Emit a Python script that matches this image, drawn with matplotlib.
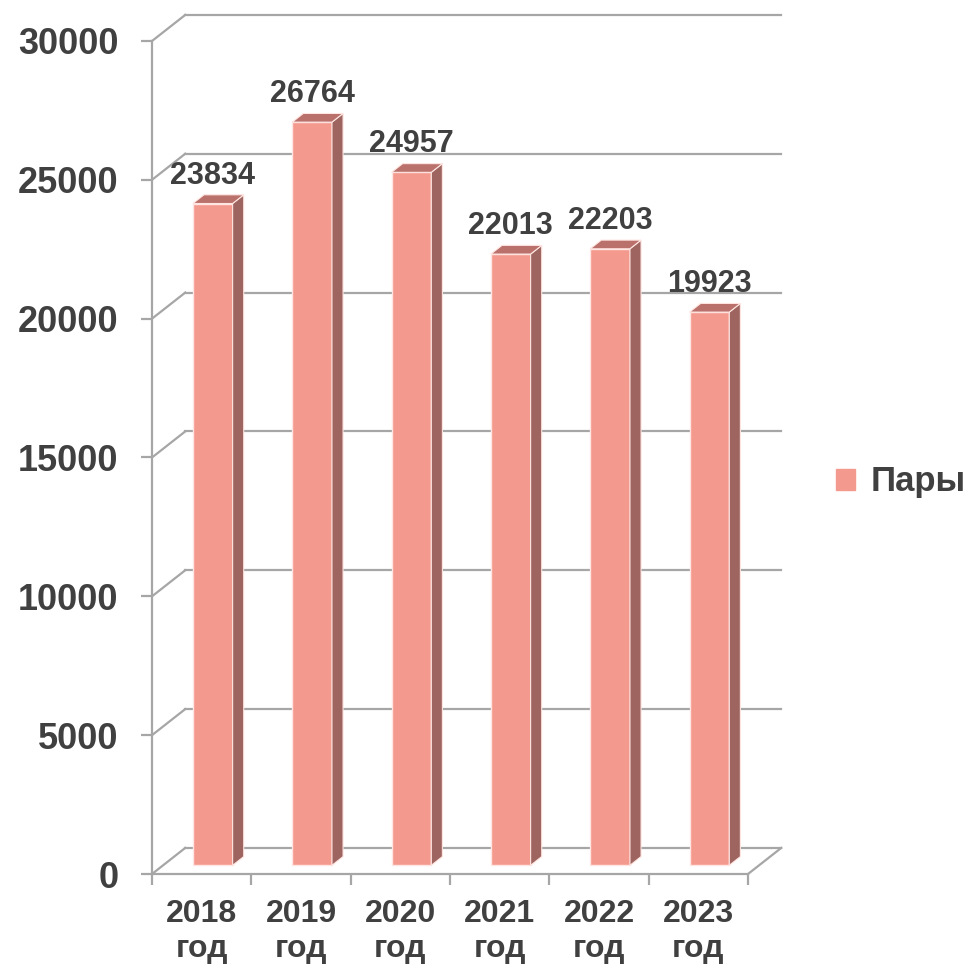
import numpy as np
import matplotlib
matplotlib.use('Agg')
import matplotlib.pyplot as plt

years = ['2018', '2019', '2020', '2021', '2022', '2023']
values = [23834, 26764, 24957, 22013, 22203, 19923]
y_ticks = [0, 5000, 10000, 15000, 20000, 25000, 30000]
series_name = 'Пары'

FRONT = '#F4998E'
SIDE = '#9E6560'
TOP = '#BA716C'
GRID = '#A6A6A6'
TEXT = '#404040'

plt.rcParams['font.family'] = ['Liberation Sans', 'DejaVu Sans']
plt.rcParams['font.weight'] = 'bold'

fig = plt.figure(figsize=(9.72, 9.67), dpi=100)
ax = fig.add_axes([152 / 972, 1 - 874 / 967, 596 / 972, 833 / 967])
n = len(values)
ax.set_xlim(0, n)
ax.set_ylim(0, 30000)

# depth of the pseudo-3d box (in data units)
DX, DY = 0.335, 940
fx, fy = DX / 3, DY / 3     # front face of bars
bdx, bdy = DX / 3, DY / 3   # bar depth
bw = 0.4

# walls and gridlines
for v in y_ticks:
    ax.plot([0, DX], [v, v + DY], color=GRID, lw=1.6, clip_on=False, zorder=1)
    ax.plot([DX, n + DX], [v + DY, v + DY], color=GRID, lw=1.6, clip_on=False, zorder=1)
ax.plot([n, n + DX], [0, DY], color=GRID, lw=1.6, clip_on=False, zorder=1)

# bars
x = np.arange(n)
x0 = x + 0.5 - bw / 2 + fx
x1 = x0 + bw
ax.bar(x0, values, width=bw, bottom=fy, align='edge', color=FRONT,
       edgecolor='#FFE6E2', linewidth=1.0, zorder=3, clip_on=False)
for i, v in enumerate(values):
    ax.fill([x1[i], x1[i] + bdx, x1[i] + bdx, x1[i]],
            [fy, fy + bdy, v + fy + bdy, v + fy],
            color=SIDE, ec='#FFE6E2', lw=0.8, zorder=3, clip_on=False)
    ax.fill([x0[i], x1[i], x1[i] + bdx, x0[i] + bdx],
            [v + fy, v + fy, v + fy + bdy, v + fy + bdy],
            color=TOP, ec='#FFE6E2', lw=0.8, zorder=3, clip_on=False)
    ax.annotate(str(v), (x0[i] + bw / 2, v + fy + bdy), xytext=(0, 3),
                textcoords='offset points', ha='center', va='bottom',
                fontsize=22, fontweight='bold', color=TEXT, zorder=4)

# axes
for s in ['top', 'right']:
    ax.spines[s].set_visible(False)
for s in ['left', 'bottom']:
    ax.spines[s].set_color(GRID)
    ax.spines[s].set_linewidth(1.6)
ax.set_facecolor('none')

ax.set_yticks(y_ticks)
ax.set_yticklabels([str(t) for t in y_ticks])
ax.tick_params(axis='y', length=8, width=1.6, color=GRID, pad=16,
               labelsize=26, labelcolor=TEXT)

ax.set_xticks(np.arange(n + 1))
ax.set_xticklabels([])
ax.tick_params(axis='x', which='major', length=8, width=1.6, color=GRID)
ax.set_xticks(x + 0.5, minor=True)
ax.set_xticklabels([f'{y}\nгод' for y in years], minor=True)
ax.tick_params(axis='x', which='minor', length=0, pad=18,
               labelsize=23, labelcolor=TEXT)
for lab in ax.get_xticklabels(minor=True) + ax.get_yticklabels():
    lab.set_fontweight('bold')

# legend
handle = plt.Rectangle((0, 0), 1, 1, color=FRONT)
leg = fig.legend([handle], [series_name], loc='center left',
                 bbox_to_anchor=(836 / 972, 1 - 482 / 967),
                 frameon=False, handlelength=0.55, handleheight=0.55,
                 handletextpad=0.45, borderpad=0, borderaxespad=0,
                 prop={'size': 25, 'weight': 'bold'})
for t in leg.get_texts():
    t.set_color(TEXT)

fig.savefig('out.png', dpi=100, facecolor='white')
